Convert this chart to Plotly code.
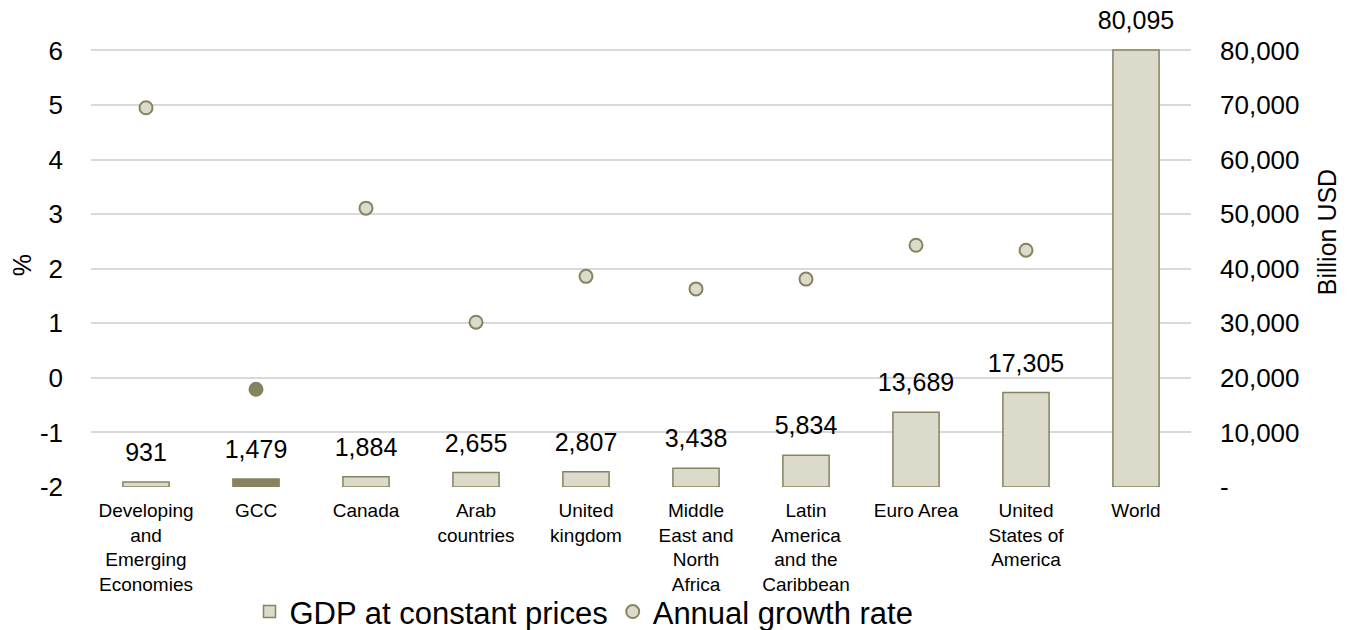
import plotly.graph_objects as go

categories = ["Developing<br>and<br>Emerging<br>Economies", "GCC", "Canada", "Arab<br>countries",
              "United<br>kingdom", "Middle<br>East and<br>North<br>Africa", "Latin<br>America<br>and the<br>Caribbean",
              "Euro Area", "United<br>States of<br>America", "World"]
gdp = [931, 1479, 1884, 2655, 2807, 3438, 5834, 13689, 17305, 80095]
growth = [4.95, -0.21, 3.11, 1.02, 1.86, 1.63, 1.81, 2.43, 2.34, 3.21]

left_ticks = [-2, -1, 0, 1, 2, 3, 4, 5, 6]
left_ticktext = ["-2", "-1", "0", "1", "2", "3", "4", "5", "6"]
right_ticks = [0, 10000, 20000, 30000, 40000, 50000, 60000, 70000, 80000]
right_ticktext = ["-", "10,000", "20,000", "30,000", "40,000", "50,000", "60,000", "70,000", "80,000"]

light_fill = "#DCDACB"
dark = "#878260"
bar_fill = [dark if c == "GCC" else light_fill for c in categories]
pt_fill = [dark if c == "GCC" else light_fill for c in categories]

FONT = "Liberation Sans, Arial, sans-serif"
# plot area: 80,000 / 6 gridline at y=50px, baseline at y=487px; a little headroom above
extra = 0.1  # extra headroom in left-axis units (1/80 of the span)
L, R, B = 91, 161, 143
T = 50 - 437 * extra / 8
pw, ph = 1352 - L - R, 630 - T - B

fig = go.Figure()
fig.add_trace(go.Bar(
    x=categories, y=gdp, yaxis="y2", name="GDP at constant prices",
    marker=dict(color=bar_fill, line=dict(color=dark, width=1.5)),
    width=0.42,
))
fig.add_trace(go.Scatter(
    x=categories, y=growth, yaxis="y", mode="markers", name="Annual growth rate",
    marker=dict(size=13, color=pt_fill, line=dict(color=dark, width=2)),
))
# data labels above the bars
fig.add_trace(go.Scatter(
    x=categories, y=gdp, yaxis="y2", mode="markers+text", showlegend=False,
    text=[f"{v:,}" for v in gdp], textposition="top center",
    textfont=dict(size=25, color="#000000", family=FONT),
    marker=dict(size=22, color="rgba(0,0,0,0)"), hoverinfo="skip", cliponaxis=False,
))

fig.add_annotation(x=(22 - L) / pw, y=1 - (265 - T) / ph, xref="paper", yref="paper",
                   xanchor="center", yanchor="middle", text="%", showarrow=False,
                   textangle=-90, font=dict(size=25, color="#000000", family=FONT))
fig.add_annotation(x=(1327 - L) / pw, y=1 - (232 - T) / ph, xref="paper", yref="paper",
                   xanchor="center", yanchor="middle", text="Billion USD", showarrow=False,
                   textangle=-90, font=dict(size=25, color="#000000", family=FONT))

fig.update_layout(
    width=1352, height=630,
    margin=dict(l=L, r=R, t=T, b=B, autoexpand=False),
    plot_bgcolor="white", paper_bgcolor="white",
    font=dict(family=FONT, color="#000000"),
    xaxis=dict(range=[-0.5, len(categories) - 0.5], tickfont=dict(size=19),
               showgrid=False, showline=False, ticks="",
               ticklabelstandoff=10, automargin=False),
    yaxis=dict(range=[-2, 6 + extra], tickvals=left_ticks, ticktext=left_ticktext,
               tickfont=dict(size=26), showgrid=True,
               gridcolor="#D9D9D9", gridwidth=1.5, zeroline=False,
               ticklabelstandoff=27, automargin=False),
    yaxis2=dict(range=[0, 80000 * (8 + extra) / 8], overlaying="y", side="right",
                tickvals=right_ticks, ticktext=right_ticktext,
                tickfont=dict(size=26), showgrid=False, zeroline=False,
                ticklabelstandoff=28, automargin=False),
    legend=dict(orientation="h", x=(584 - L) / pw, xanchor="center",
                y=-(612 - 487) / ph, yanchor="middle", bgcolor="rgba(0,0,0,0)",
                font=dict(size=31), itemwidth=30, tracegroupgap=0),
    bargap=0.5,
)

fig.write_html("out.html")
